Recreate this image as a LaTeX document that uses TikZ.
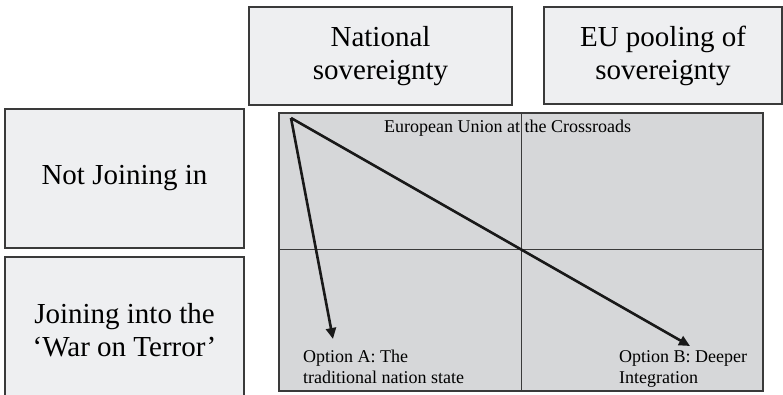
\documentclass[tikz,border=0pt]{standalone}
\usepackage{fontspec}
\setmainfont{Liberation Serif}
\usetikzlibrary{arrows.meta}
\definecolor{boxfill}{HTML}{EEEFF1}
\definecolor{gridfill}{HTML}{D6D7D9}
\definecolor{edge}{HTML}{3A3A3A}
\begin{document}
\begin{tikzpicture}[x=1pt,y=-1pt,
  box/.style={draw=edge, line width=1.1pt, fill=boxfill, inner sep=0pt, align=center,
    font=\fontsize{29}{33}\selectfont},
  gridbox/.style={draw=edge, line width=1.1pt, fill=gridfill, inner sep=0pt},
  small/.style={inner sep=0pt, anchor=base west, font=\fontsize{18}{21}\selectfont},
  arr/.style={line width=2.6pt, draw=black!90, -{Triangle[length=11pt,width=10pt]}}
]
\useasboundingbox (0,0) rectangle (783,395);
\node[box, minimum width=263pt, minimum height=98pt] (nat) at (380.5,56) {National\\sovereignty};
\node[box, minimum width=238pt, minimum height=97pt] (eu) at (663,55.5) {EU pooling of\\sovereignty};
\node[box, minimum width=239pt, minimum height=139pt] (notj) at (124.5,178.5) {Not Joining in};
\node[box, minimum width=239pt, minimum height=146pt] (join) at (124.5,330) {Joining into the\\`War on Terror'};
\node[gridbox, minimum width=484pt, minimum height=278pt] (grid) at (521,252) {};
\draw[edge, line width=1pt] (grid.north) -- (grid.south);
\draw[edge, line width=1pt] (279,249) -- (763,249);
\node[small] (title) at (384,133) {European Union at the Crossroads};
\node[small] (oa1) at (303,362) {Option A: The};
\node[small] (oa2) at (303,383) {traditional nation state};
\node[small] (ob1) at (619,362) {Option B: Deeper};
\node[small] (ob2) at (619,383) {Integration};
\coordinate (start) at (291,118);
\coordinate (tipA) at (333,339);
\coordinate (tipB) at (690,346);
\draw[arr] (start) -- (tipA);
\draw[arr] (start) -- (tipB);
\end{tikzpicture}
\end{document}
